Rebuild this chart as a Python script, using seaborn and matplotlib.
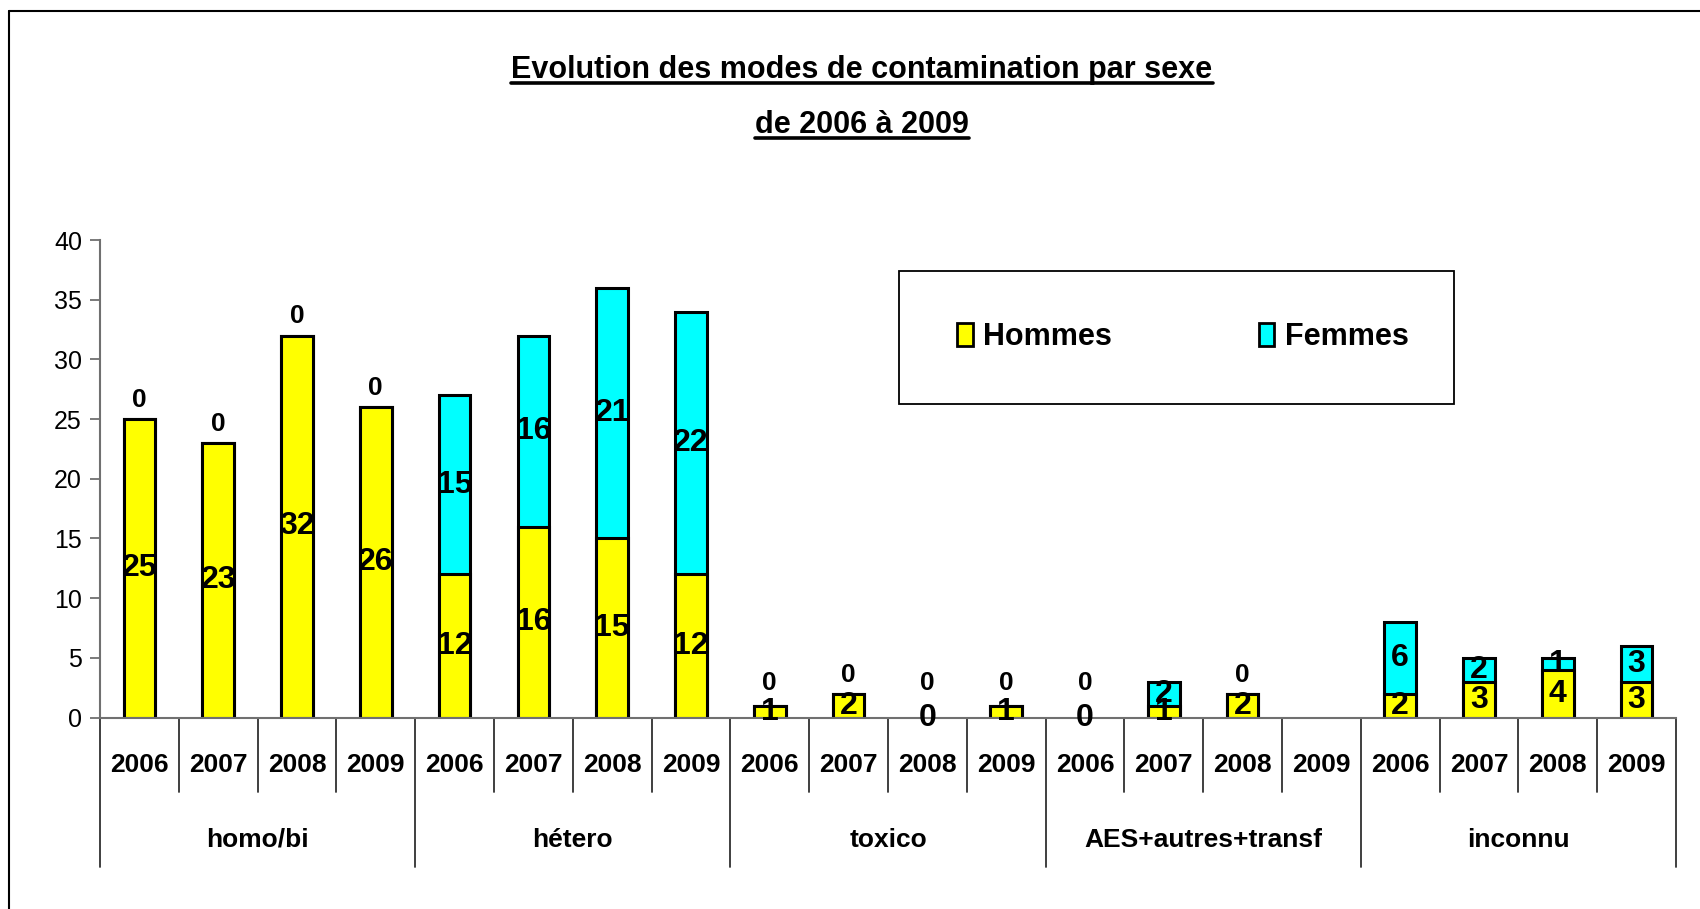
import matplotlib
matplotlib.use("Agg")
import matplotlib.pyplot as plt
from matplotlib.patches import Patch, Rectangle
from matplotlib.lines import Line2D
import numpy as np
import pandas as pd
import seaborn as sns

# ------------------------------------------------------------
# Data
# ------------------------------------------------------------
groups = ["homo/bi", "hétero", "toxico", "AES+autres+transf", "inconnu"]
years = ["2006", "2007", "2008", "2009"]
hommes = [25, 23, 32, 26, 12, 16, 15, 12, 1, 2, 0, 1, 0, 1, 2, np.nan, 2, 3, 4, 3]
femmes = [0, 0, 0, 0, 15, 16, 21, 22, 0, 0, 0, 0, 0, 2, 0, np.nan, 6, 2, 1, 3]
yticks = [0, 5, 10, 15, 20, 25, 30, 35, 40]

YELLOW = "#FFFF00"
CYAN = "#00FFFF"
W, H = 1700, 909

sns.set_theme(style="white")
plt.rcParams["font.family"] = ["Liberation Sans", "DejaVu Sans"]
for key in ["text.color", "axes.labelcolor", "xtick.color", "ytick.color"]:
    plt.rcParams[key] = "black"

df = pd.DataFrame({
    "slot": [f"{g} {y}" for g in groups for y in years],
    "Hommes": hommes,
    "Femmes": femmes,
})
df["total"] = df["Hommes"] + df["Femmes"]

fig = plt.figure(figsize=(W / 100, H / 100), dpi=100)
ax = fig.add_axes([100 / W, 191.5 / H, 1576 / W, 477.5 / H])

# stacked bars: total (cyan) underneath, hommes (yellow) on top
bar_kw = dict(width=0.4, saturation=1, edgecolor="black", linewidth=2.2, errorbar=None, ax=ax)
sns.barplot(data=df, x="slot", y="total", color=CYAN, **bar_kw)
sns.barplot(data=df, x="slot", y="Hommes", color=YELLOW, **bar_kw)
for p in ax.patches:
    if not np.isfinite(p.get_height()) or p.get_height() == 0:
        p.set_visible(False)

ax.set_xlim(-0.5, len(df) - 0.5)
ax.set_ylim(0, 40)
ax.set_yticks(yticks)
ax.set_xticks([])
ax.set_xlabel("")
ax.set_ylabel("")
ax.tick_params(axis="y", left=True, length=7, width=1.3, color="#707070", labelsize=18, pad=6)
for side in ["top", "right"]:
    ax.spines[side].set_visible(False)
for side in ["left", "bottom"]:
    ax.spines[side].set_color("#707070")
    ax.spines[side].set_linewidth(1.5)

# data labels
for i, (h, f) in enumerate(zip(hommes, femmes)):
    if np.isnan(h):
        continue
    ax.text(i, h / 2, f"{h:g}", ha="center", va="center", fontsize=23, fontweight="bold")
    if f > 0:
        ax.text(i, h + f / 2, f"{f:g}", ha="center", va="center", fontsize=23, fontweight="bold")
    else:
        ax.text(i, max(h + 1.6, 2.9), "0", ha="center", va="center", fontsize=19, fontweight="bold")

# two-level category axis
trans = ax.get_xaxis_transform()
for k in range(len(df) + 1):
    depth = -0.314 if k % len(years) == 0 else -0.157
    ax.plot([k - 0.5, k - 0.5], [0, depth], transform=trans, color="#303030",
            lw=1.3, clip_on=False)
for i, y in enumerate(years * len(groups)):
    ax.text(i, -0.0995, y, transform=trans, ha="center", va="center",
            fontsize=19, fontweight="bold")
for g, name in enumerate(groups):
    ax.text(g * len(years) + 1.5, -0.2565, name, transform=trans, ha="center",
            va="center", fontsize=19, fontweight="bold")

# legend in a plain box
fig.add_artist(Rectangle((899 / W, 1 - 404 / H), 555 / W, 133 / H, transform=fig.transFigure,
                         facecolor="none", edgecolor="black", lw=1.3))
handles = [Patch(facecolor=YELLOW, edgecolor="black", lw=2), Patch(facecolor=CYAN, edgecolor="black", lw=2)]
leg = ax.legend(handles, ["Hommes", "Femmes"], ncol=2, loc="center",
                bbox_to_anchor=(1183 / W, 1 - 337 / H), bbox_transform=fig.transFigure,
                frameon=False, handlelength=0.5, handleheight=0.75, handletextpad=0.35,
                columnspacing=4.8, prop={"weight": "bold", "size": 22})

# title, underlined
titles = ["Evolution des modes de contamination par sexe", "de 2006 à 2009"]
title_texts = [fig.text(862 / W, 1 - yy / H, t, ha="center", va="center", fontsize=22,
                        fontweight="bold") for t, yy in zip(titles, [70, 125])]
fig.canvas.draw()
for t in title_texts:
    bb = t.get_window_extent()
    yline = (bb.y0 + 2) / H
    fig.add_artist(Line2D([bb.x0 / W, bb.x1 / W], [yline, yline], color="black", lw=2.6,
                          transform=fig.transFigure))

# outer frame (top and left edges visible)
fig.add_artist(Line2D([9 / W, 1], [1 - 10.5 / H] * 2, color="black", lw=1.5, transform=fig.transFigure))
fig.add_artist(Line2D([9 / W] * 2, [0, 1 - 10.5 / H], color="black", lw=1.5, transform=fig.transFigure))

fig.savefig("out.png", dpi=100)
